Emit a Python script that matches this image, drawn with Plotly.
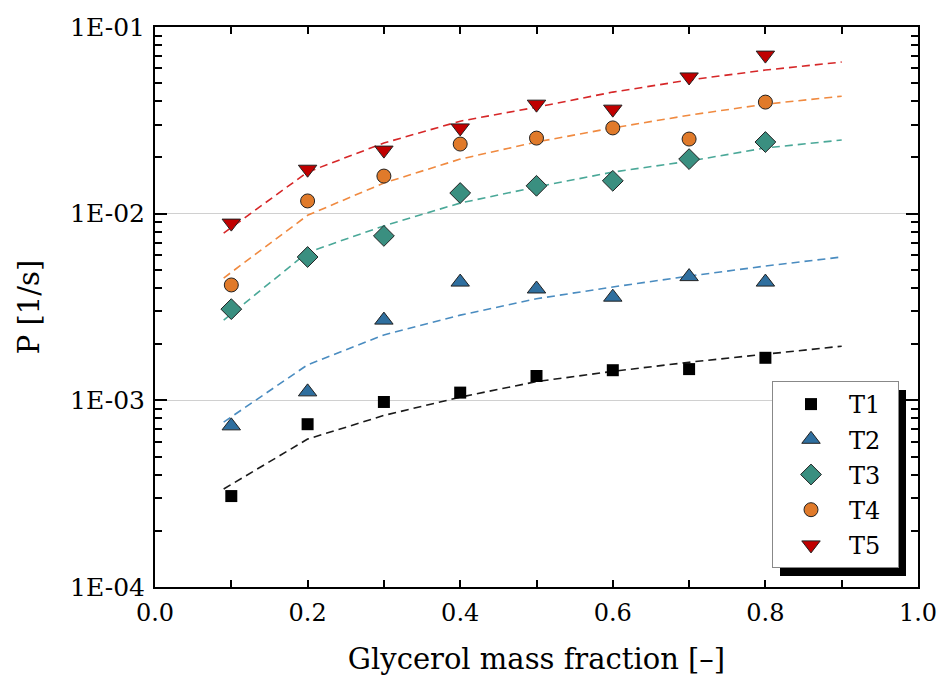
import plotly.graph_objects as go

x_pts = [0.1, 0.2, 0.3, 0.4, 0.5, 0.6, 0.7, 0.8]
x_fit = [0.09, 0.2, 0.3, 0.4, 0.5, 0.6, 0.7, 0.8, 0.9]

names = ["T1", "T2", "T3", "T4", "T5"]

T1 = [3.07e-4, 7.45e-4, 9.8e-4, 1.1e-3, 1.35e-3, 1.45e-3, 1.47e-3, 1.69e-3]
T2 = [7.3e-4, 1.11e-3, 2.69e-3, 4.3e-3, 3.95e-3, 3.57e-3, 4.6e-3, 4.3e-3]
T3 = [3.08e-3, 5.86e-3, 7.6e-3, 1.29e-2, 1.41e-2, 1.5e-2, 1.96e-2, 2.42e-2]
T4 = [4.15e-3, 1.17e-2, 1.59e-2, 2.36e-2, 2.54e-2, 2.88e-2, 2.51e-2, 3.96e-2]
T5 = [8.9e-3, 1.73e-2, 2.19e-2, 2.88e-2, 3.86e-2, 3.63e-2, 5.4e-2, 7.07e-2]

F1 = [3.35e-4, 6.2e-4, 8.3e-4, 1.04e-3, 1.26e-3, 1.43e-3, 1.6e-3, 1.77e-3, 1.95e-3]
F2 = [7.65e-4, 1.55e-3, 2.24e-3, 2.86e-3, 3.5e-3, 4.05e-3, 4.63e-3, 5.24e-3, 5.86e-3]
F3 = [2.69e-3, 6.2e-3, 8.6e-3, 1.14e-2, 1.39e-2, 1.67e-2, 1.91e-2, 2.25e-2, 2.48e-2]
F4 = [4.52e-3, 9.8e-3, 1.46e-2, 1.96e-2, 2.42e-2, 2.88e-2, 3.37e-2, 3.86e-2, 4.26e-2]
F5 = [7.87e-3, 1.67e-2, 2.39e-2, 3.13e-2, 3.72e-2, 4.48e-2, 5.2e-2, 5.88e-2, 6.49e-2]

data_series = [T1, T2, T3, T4, T5]
fit_series = [F1, F2, F3, F4, F5]

marker_colors = ["#000000", "#2f6f9f", "#3a8f80", "#e07a2a", "#c00000"]
line_colors = ["#1a1a1a", "#4a8cc0", "#4aa898", "#f08a40", "#d62728"]
symbols = ["square", "triangle-up", "diamond", "circle", "triangle-down"]
sizes = [12, 16, 16, 14, 16]

x_major = [0, 0.2, 0.4, 0.6, 0.8, 1.0]
x_major_text = ["0.0", "0.2", "0.4", "0.6", "0.8", "1.0"]
x_minor = [0.1, 0.3, 0.5, 0.7, 0.9]
y_major = [1e-4, 1e-3, 1e-2, 1e-1]
y_major_text = ["1E-04", "1E-03", "1E-02", "1E-01"]
y_minor = [m * 10 ** e for e in (-4, -3, -2) for m in range(2, 10)]

FONT = "DejaVu Serif"
PAD = "\u00a0\u2009"

fig = go.Figure()

for i in range(5):
    fig.add_trace(go.Scatter(
        x=x_fit, y=fit_series[i], mode="lines",
        line=dict(color=line_colors[i], width=1.6, dash="8px,5px"),
        showlegend=False, hoverinfo="skip"))

for i in range(5):
    fig.add_trace(go.Scatter(
        x=x_pts, y=data_series[i], mode="markers", name=names[i] + PAD,
        legendgroup=names[i],
        marker=dict(symbol=symbols[i], size=sizes[i], color=marker_colors[i],
                    line=dict(color="#222222", width=1 if i > 0 else 0))))

L, R, T, B = 155, 23, 27, 93
W, H = 941, 680
pw, ph = W - L - R, H - T - B

def px_to_paper(px, py):
    return (px - L) / pw, (H - B - py) / ph

sx0, sy0 = px_to_paper(780, 576)
sx1, sy1 = px_to_paper(906, 390)
fig.add_shape(type="rect", xref="paper", yref="paper",
              x0=sx0, y0=sy0, x1=sx1, y1=sy1,
              fillcolor="black", line=dict(width=0), layer="above")

lx, ly = px_to_paper(772, 381)

fig.update_layout(
    width=W, height=H,
    margin=dict(l=L, r=R, t=T, b=B, autoexpand=False),
    paper_bgcolor="white", plot_bgcolor="white",
    font=dict(family=FONT, size=22, color="black"),
    legend=dict(x=lx, y=ly, xanchor="left", yanchor="top",
                bgcolor="white", bordercolor="#888888", borderwidth=1,
                font=dict(family=FONT, size=24, color="black"),
                tracegroupgap=1, traceorder="grouped",
                itemwidth=66),
    xaxis=dict(range=[0, 1], tickmode="array",
               tickvals=x_major, ticktext=x_major_text,
               ticks="inside", ticklen=7, tickwidth=1.5, tickcolor="black",
               minor=dict(tickvals=x_minor, ticks="inside",
                          ticklen=7, tickwidth=1.5, tickcolor="black"),
               showline=True, linecolor="black", linewidth=2, mirror="ticks",
               showgrid=False, zeroline=False, ticklabelstandoff=3,
               automargin=False,
               tickfont=dict(family=FONT, size=24),
               title=dict(text="Glycerol mass fraction [\u2013]",
                          font=dict(family=FONT, size=29), standoff=23)),
    yaxis=dict(type="log", range=[-4, -1], tickmode="array",
               tickvals=y_major, ticktext=y_major_text,
               ticks="inside", ticklen=12, tickwidth=1.5, tickcolor="black",
               minor=dict(tickvals=y_minor, ticks="inside", ticklen=7,
                          tickwidth=1.5, tickcolor="black", showgrid=False),
               showline=True, linecolor="black", linewidth=2, mirror="ticks",
               showgrid=True, gridcolor="#d0d0d0", gridwidth=1,
               zeroline=False, ticklabelstandoff=3, automargin=False,
               tickfont=dict(family=FONT, size=25),
               title=dict(text="P [1/s]", font=dict(family=FONT, size=29),
                          standoff=22)),
)

fig.write_html("out.html")
